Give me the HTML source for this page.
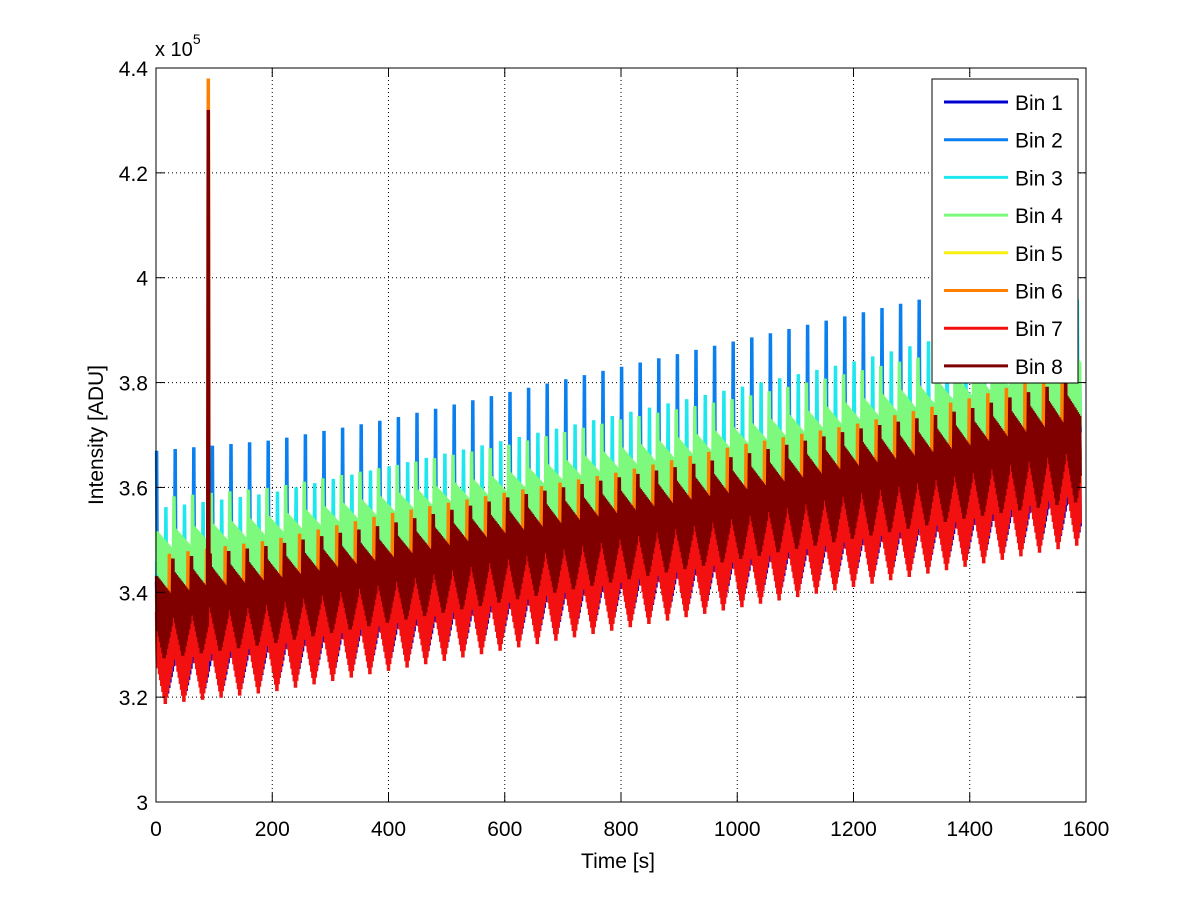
<!DOCTYPE html>
<html><head><meta charset="utf-8">
<style>
html,body{margin:0;padding:0;background:#fff;}
svg{display:block;font-family:"Liberation Sans",Arial,sans-serif;}
</style></head>
<body>
<svg id="chart" width="1200" height="901" viewBox="0 0 1200 901" xmlns="http://www.w3.org/2000/svg">
<rect x="0" y="0" width="1200" height="901" fill="#fff"/>
<g id="grid"></g>
<g id="series"></g>
<g id="axes"></g>
<g id="legend"></g>
</svg>
<script>
// ---- data (values in units of 1e5 ADU) ----
const binNames = ["Bin 1","Bin 2","Bin 3","Bin 4","Bin 5","Bin 6","Bin 7","Bin 8"];
const binColors = ["#0000d0","#0a7ff0","#1ee8ee","#7dfa7d","#f8f010","#ff8000","#f21010","#800000"];
// envelope sample times (s)
const envTimes = [0,200,400,600,800,1000,1200,1400,1590];
// per-bin peak (spike top) envelope
const peak1 = [3.42,3.46,3.50,3.55,3.59,3.63,3.67,3.71,3.76];
const peak2 = [3.67,3.69,3.73,3.78,3.83,3.88,3.93,3.98,4.06];
const peak3 = [3.56,3.59,3.64,3.69,3.74,3.79,3.84,3.90,3.96];
const peak4 = [3.58,3.60,3.64,3.68,3.73,3.77,3.82,3.87,3.93];
const peak5 = [3.40,3.44,3.48,3.53,3.57,3.61,3.65,3.69,3.74];
const peak6 = [3.47,3.50,3.55,3.59,3.63,3.68,3.72,3.77,3.83];
const peak7 = [3.42,3.45,3.49,3.53,3.57,3.61,3.65,3.70,3.76];
const peak8 = [3.46,3.49,3.53,3.58,3.62,3.66,3.71,3.75,3.81];
// per-bin band top envelope
const top1 = [3.36,3.40,3.44,3.48,3.52,3.56,3.60,3.64,3.69];
const top2 = [3.50,3.53,3.57,3.62,3.66,3.71,3.76,3.81,3.86];
const top3 = [3.48,3.51,3.55,3.60,3.64,3.69,3.74,3.79,3.84];
const top4 = [3.52,3.55,3.59,3.63,3.68,3.72,3.77,3.82,3.88];
const top5 = [3.35,3.39,3.43,3.47,3.51,3.55,3.59,3.63,3.68];
const top6 = [3.41,3.45,3.49,3.53,3.57,3.61,3.65,3.70,3.75];
const top7 = [3.37,3.41,3.45,3.49,3.53,3.57,3.61,3.65,3.71];
const top8 = [3.44,3.47,3.51,3.56,3.60,3.64,3.69,3.73,3.79];
// per-bin band bottom envelope
const bot1 = [3.20,3.23,3.27,3.31,3.35,3.39,3.43,3.47,3.51];
const bot2 = [3.36,3.39,3.43,3.47,3.51,3.55,3.59,3.64,3.69];
const bot3 = [3.35,3.38,3.42,3.46,3.50,3.54,3.58,3.63,3.68];
const bot4 = [3.37,3.40,3.44,3.48,3.52,3.56,3.60,3.64,3.69];
const bot5 = [3.25,3.28,3.32,3.36,3.40,3.44,3.48,3.52,3.56];
const bot6 = [3.27,3.30,3.34,3.38,3.42,3.46,3.50,3.54,3.59];
const bot7 = [3.185,3.21,3.25,3.29,3.33,3.37,3.41,3.45,3.49];
const bot8 = [3.27,3.30,3.34,3.38,3.42,3.46,3.50,3.54,3.57];
// phase offset of each bin's cycle (fraction of period)
const phaseOffsets = [0,0,0.5,0.05,0.3,0.3,0.1,0.15];
// transient spike near t=90s
const spikeTime = 90;
const spikeValues = [null,null,null,null,null,4.38,3.86,4.32];
const cyclePeriod = 32;
const xTicks = [0,200,400,600,800,1000,1200,1400,1600];
const yTicks = [3,3.2,3.4,3.6,3.8,4,4.2,4.4];
const yTickLabels = ["3","3.2","3.4","3.6","3.8","4","4.2","4.4"];

const peaks=[peak1,peak2,peak3,peak4,peak5,peak6,peak7,peak8];
const tops=[top1,top2,top3,top4,top5,top6,top7,top8];
const bots=[bot1,bot2,bot3,bot4,bot5,bot6,bot7,bot8];

// ---- axes ----
const X0=156,X1=1086,Y0=802,Y1=68, XMIN=0,XMAX=1600,YMIN=3,YMAX=4.4;
const xs=v=>X0+(v-XMIN)/(XMAX-XMIN)*(X1-X0);
const ys=v=>Y0-(v-YMIN)/(YMAX-YMIN)*(Y0-Y1);
const NS="http://www.w3.org/2000/svg";
function mk(tag,attrs,parent){const e=document.createElementNS(NS,tag);for(const k in attrs)e.setAttribute(k,attrs[k]);parent.appendChild(e);return e;}
function env(arr,t){
  if(t<=envTimes[0])return arr[0];
  for(let i=1;i<envTimes.length;i++){if(t<=envTimes[i]){const f=(t-envTimes[i-1])/(envTimes[i]-envTimes[i-1]);return arr[i-1]+f*(arr[i]-arr[i-1]);}}
  return arr[arr.length-1];
}
const grid=document.getElementById('grid'),axes=document.getElementById('axes'),series=document.getElementById('series'),legend=document.getElementById('legend');

xTicks.forEach((t,i)=>{
  if(i>0&&i<xTicks.length-1){const g=mk('line',{x1:xs(t),x2:xs(t),y1:Y1,y2:Y0,stroke:'#000','stroke-width':1,'stroke-dasharray':'1 3'},grid);
  
  }
});
yTicks.forEach((t,i)=>{
  if(i>0&&i<yTicks.length-1){const g=mk('line',{x1:X0,x2:X1,y1:ys(t),y2:ys(t),stroke:'#000','stroke-width':1,'stroke-dasharray':'1 3'},grid);
  
  }
});

// ---- series ----
for(let b=0;b<8;b++){
  let pts=[];
  const dt=1.0;
  let k=0;
  for(let t=1;t<=1590;t+=dt,k++){
    const ph=(((t/cyclePeriod)+phaseOffsets[b])%1+1)%1;
    const pk=env(peaks[b],t),tp=env(tops[b],t),bt=env(bots[b],t);
    let v;
    if(k%2===0){
      v = ph<0.07 ? pk : tp-(tp-bt)*0.3*ph;
    } else {
      const vshape=Math.abs(ph-0.6)/0.6;
      v = bt+(tp-bt)*0.6*Math.min(1,vshape);
    }
    if(spikeValues[b]!==null && Math.abs(t-spikeTime)<0.6) v=spikeValues[b];
    pts.push(xs(t).toFixed(1)+','+ys(v).toFixed(1));
  }
  const pl=mk('polyline',{points:pts.join(' '),fill:'none',stroke:binColors[b],'stroke-width':3.5,'stroke-linejoin':'miter'},series);
  
  
}

// ---- axis box & ticks ----
const box=mk('rect',{x:X0,y:Y1,width:X1-X0,height:Y0-Y1,fill:'none',stroke:'#000','stroke-width':1},axes);


xTicks.forEach(t=>{
  mk('line',{x1:xs(t),x2:xs(t),y1:Y0,y2:Y0-9,stroke:'#000'},axes);
  mk('line',{x1:xs(t),x2:xs(t),y1:Y1,y2:Y1+9,stroke:'#000'},axes);
  const tx=mk('text',{x:xs(t),y:836,'text-anchor':'middle','font-size':21,fill:'#000'},axes);
  tx.textContent=String(t);
  
  
});
yTicks.forEach((t,i)=>{
  mk('line',{x1:X0,x2:X0+9,y1:ys(t),y2:ys(t),stroke:'#000'},axes);
  mk('line',{x1:X1,x2:X1-9,y1:ys(t),y2:ys(t),stroke:'#000'},axes);
  const tx=mk('text',{x:148,y:ys(t)+8,'text-anchor':'end','font-size':21,fill:'#000'},axes);
  tx.textContent=yTickLabels[i];
  
  
});
</script>
<script>
(function(){
const NS="http://www.w3.org/2000/svg";
const axes=document.getElementById('axes'),legend=document.getElementById('legend');
function mk(tag,attrs,parent){const e=document.createElementNS(NS,tag);for(const k in attrs)e.setAttribute(k,attrs[k]);parent.appendChild(e);return e;}
const ex=mk('text',{x:155,y:56,'font-size':20,fill:'#000'},axes);
ex.innerHTML='x 10<tspan dy="-12" font-size="14">5</tspan>';


const xt=mk('text',{x:618,y:868,'text-anchor':'middle','font-size':21,fill:'#000'},axes);
xt.textContent='Time [s]';


const yt=mk('text',{x:0,y:0,'text-anchor':'middle','font-size':21,fill:'#000',transform:'translate(103,435) rotate(-90)'},axes);
yt.textContent='Intensity [ADU]';


const lb=mk('rect',{x:932,y:79,width:146,height:304,fill:'#fff',stroke:'#000','stroke-width':1},legend);


binNames.forEach((n,i)=>{
  const y=102+i*37.7;
  const g=mk('g',{},legend);
  
  
  mk('line',{x1:944,x2:1008,y1:y,y2:y,stroke:binColors[i],'stroke-width':3},g);
  const t=mk('text',{x:1015,y:y+8,'font-size':21,fill:'#000'},g);
  t.textContent=n;
});
})();
</script>
</body></html>
